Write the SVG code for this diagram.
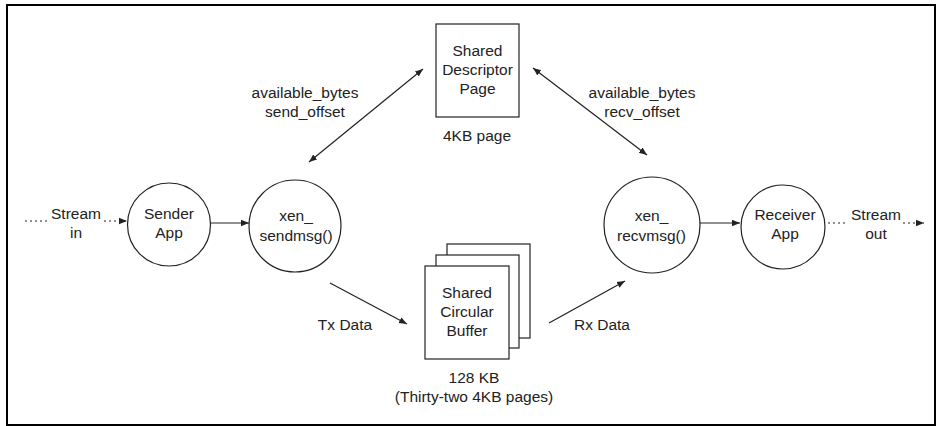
<svg xmlns="http://www.w3.org/2000/svg" width="936" height="426" viewBox="0 0 936 426">
<style>
text{font-family:"Liberation Sans",Arial,sans-serif;font-size:15.5px;fill:#222;text-anchor:middle}
.n{fill:#fff;stroke:#222;stroke-width:1.2}
.c{fill:none;stroke:#222;stroke-width:1.2}
.d{fill:none;stroke:#222;stroke-width:1.2;stroke-dasharray:2 3}
</style>
<defs>
<marker id="ah" viewBox="0 0 10 10" refX="10" refY="5" markerWidth="8" markerHeight="8" markerUnits="userSpaceOnUse" orient="auto-start-reverse">
<path d="M0,1 L10,5 L0,9 z" fill="#222"/>
</marker>
</defs>
<rect x="7" y="5" width="928" height="420" fill="#fff" stroke="#000" stroke-width="2"/>
<g id="connectors">
<line class="d" x1="25" y1="221" x2="49" y2="221"/>
<line class="d" x1="104" y1="221" x2="127" y2="221" marker-end="url(#ah)"/>
<line class="c" x1="211" y1="223" x2="249" y2="223" marker-end="url(#ah)"/>
<line class="c" x1="700" y1="223" x2="740" y2="223" marker-end="url(#ah)"/>
<line class="d" x1="828" y1="223" x2="848" y2="223"/>
<line class="d" x1="903" y1="223" x2="924" y2="223" marker-end="url(#ah)"/>
<line class="c" x1="309" y1="162" x2="423" y2="69" marker-start="url(#ah)" marker-end="url(#ah)"/>
<line class="c" x1="533" y1="68" x2="647" y2="155" marker-start="url(#ah)" marker-end="url(#ah)"/>
<line class="c" x1="330" y1="283" x2="407" y2="324" marker-end="url(#ah)"/>
<line class="c" x1="549" y1="323" x2="625" y2="281" marker-end="url(#ah)"/>
<text x="76" y="218.5">Stream</text>
<text x="76" y="238">in</text>
<text x="876" y="219.5">Stream</text>
<text x="876" y="239">out</text>
<text x="305" y="98">available_bytes</text>
<text x="305" y="117">send_offset</text>
<text x="642" y="98">available_bytes</text>
<text x="642" y="117">recv_offset</text>
<text x="345" y="330">Tx Data</text>
<text x="602" y="330">Rx Data</text>
</g>
<g id="sender">
<circle class="n" cx="169" cy="224.5" r="41.5"/>
<text x="169" y="218.5">Sender</text>
<text x="169" y="237.5">App</text>
</g>
<g id="sendmsg">
<circle class="n" cx="295" cy="226" r="46"/>
<text x="296" y="221">xen_</text>
<text x="296" y="241">sendmsg()</text>
</g>
<g id="recvmsg">
<circle class="n" cx="652" cy="225" r="48"/>
<text x="651.5" y="221">xen_</text>
<text x="651.5" y="241">recvmsg()</text>
</g>
<g id="receiver">
<circle class="n" cx="783" cy="227" r="42"/>
<text x="785" y="219.5">Receiver</text>
<text x="785" y="239">App</text>
</g>
<g id="descriptor">
<rect class="n" x="436" y="24" width="83" height="93"/>
<text x="477.5" y="56">Shared</text>
<text x="477.5" y="75">Descriptor</text>
<text x="477.5" y="94">Page</text>
<text x="477" y="141">4KB page</text>
</g>
<g id="buffer">
<rect class="n" x="447" y="244" width="83" height="94"/>
<rect class="n" x="436" y="255" width="83" height="93"/>
<rect class="n" x="425" y="266" width="84" height="93"/>
<text x="467" y="298">Shared</text>
<text x="467" y="317">Circular</text>
<text x="467" y="336">Buffer</text>
<text x="474" y="382.5">128 KB</text>
<text x="474" y="401.5">(Thirty-two 4KB pages)</text>
</g>
</svg>
